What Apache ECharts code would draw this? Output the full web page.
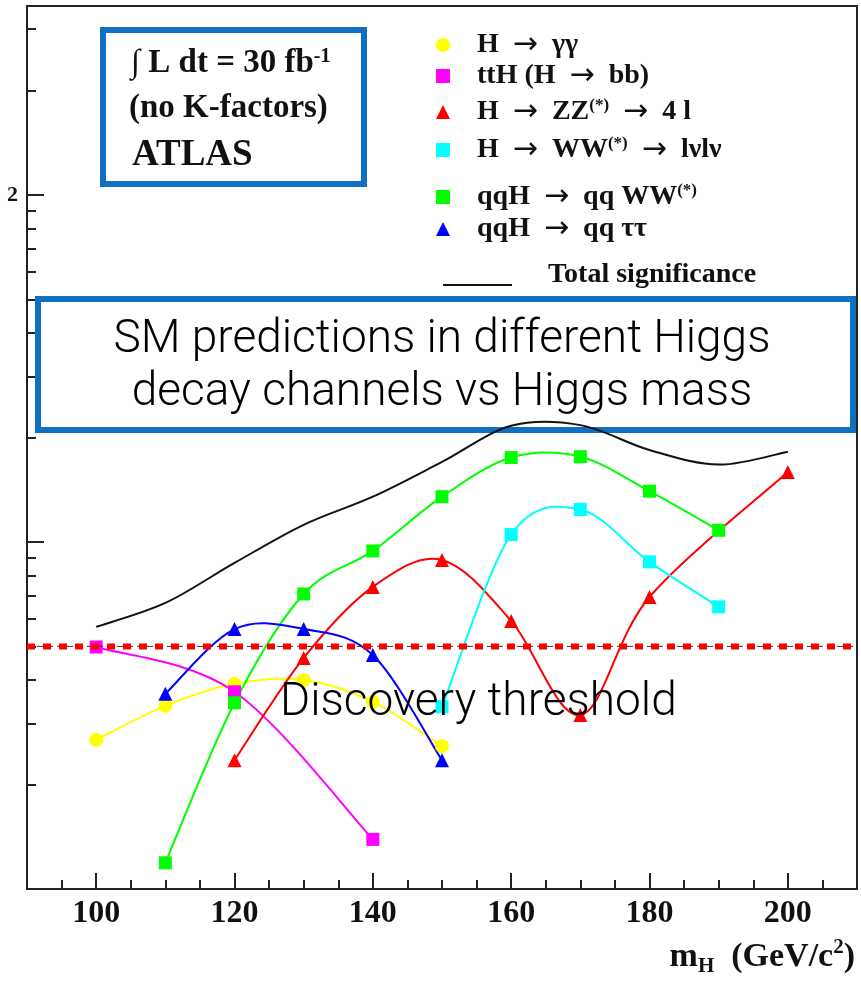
<!DOCTYPE html>
<html><head><meta charset="utf-8">
<script src="https://cdn.jsdelivr.net/npm/echarts@6/dist/echarts.min.js"></script>
<style>html,body{margin:0;padding:0;background:#fff}#c{width:861px;height:981px}</style>
</head><body><div id="c"></div>
<script>
// ---- data ----
const gammaGammaX = [100,110,120,130,140,150];
const gammaGamma  = [2.69,3.37,3.90,4.00,3.46,2.58];
const ttHX = [100,120,140];
const ttH  = [4.98,3.70,1.39];
const zzX = [120,130,140,150,160,170,180,200];
const zz  = [2.35,4.63,7.42,8.87,5.92,3.17,6.94,15.9];
const wwX = [150,160,170,180,190];
const ww  = [3.35,10.5,12.4,8.76,6.5];
const qqWWX = [110,120,130,140,150,160,170,180,190];
const qqWW  = [1.19,3.44,7.08,9.42,13.5,17.5,17.6,14.0,10.8];
const qqTauX = [110,120,130,140,150];
const qqTau  = [3.65,5.61,5.61,4.72,2.35];
const totalX = [100,110,120,130,140,150,160,170,180,190,200];
const total  = [5.69,6.67,8.7,11.2,13.5,17.0,21.6,21.7,18.4,16.7,18.2];
const thresholdX = [90,210];
const thresholdValue = 5;
const xMajorTicks = [100,120,140,160,180,200];
const xMinorTicks = [95,105,110,115,125,130,135,145,150,155,165,170,175,185,190,195,205];
const yMajorTicks = [1,10,100];
const yMinorTicks = [2,3,4,5,6,7,8,9,20,30,40,50,60,70,80,90,200,300];
const yLabelValues = [100];
const yLabelTexts = {100:'2'};
const seriesNames = ['H → γγ','ttH (H → bb)','H → ZZ(*) → 4 l','H → WW(*) → lνlν','qqH → qq WW(*)','qqH → qq ττ','Total significance'];
const legendTexts = {
  'H → γγ':'H  {a|→}  γγ',
  'ttH (H → bb)':'ttH (H  {a|→}  bb)',
  'H → ZZ(*) → 4 l':'H  {a|→}  ZZ{sup|(*)}  {a|→}  4 l',
  'H → WW(*) → lνlν':'H  {a|→}  WW{sup|(*)}  {a|→}  lνlν',
  'qqH → qq WW(*)':'qqH  {a|→}  qq WW{sup|(*)}',
  'qqH → qq ττ':'qqH  {a|→}  qq ττ',
  'Total significance':'Total significance'
};

const zip = (xs, ys) => xs.map((x,i)=>[x, ys[i]]);
const SERIF = 'Liberation Serif';
const SANS = 'Roboto';
const BLUE = '#0F6FC0';

const chart = echarts.init(document.getElementById('c'), null, {renderer:'canvas'});

// markers
function markerSeries(name, xs, ys, color, symbol, size) {
  return {name, type:'scatter', data:zip(xs, ys), symbol, symbolSize:size,
    itemStyle:{color, opacity:1}, z:5, silent:true};
}
// smooth curve through the data points (Catmull-Rom spline in screen space)
function curveSeries(name, xs, ys, color, width, z) {
  return {
    name, type:'custom', coordinateSystem:'cartesian2d', data:zip(xs, ys),
    encode:{x:0, y:1}, itemStyle:{color}, z:z, silent:true, clip:true,
    renderItem:function(params, api){
      if (params.dataIndex !== 0) return null;
      const pts = xs.map((x,i)=>api.coord([x, ys[i]]));
      let d = 'M' + pts[0][0] + ' ' + pts[0][1];
      for (let i=0;i<pts.length-1;i++){
        const p0 = pts[Math.max(i-1,0)], p1 = pts[i], p2 = pts[i+1], p3 = pts[Math.min(i+2,pts.length-1)];
        const c1x = p1[0] + (p2[0]-p0[0])/6, c1y = p1[1] + (p2[1]-p0[1])/6;
        const c2x = p2[0] - (p3[0]-p1[0])/6, c2y = p2[1] - (p3[1]-p1[1])/6;
        d += ' C' + c1x + ' ' + c1y + ' ' + c2x + ' ' + c2y + ' ' + p2[0] + ' ' + p2[1];
      }
      return {type:'path', shape:{pathData:d}, style:{fill:null, stroke:color, lineWidth:width}};
    }
  };
}

const richBase = {fontFamily:SERIF, fontWeight:'bold', fontSize:28, lineHeight:30, color:'#111'};
const legendTextStyle = (pad) => Object.assign({}, richBase, {
  padding:pad,
  rich:{
    sup:{fontFamily:SERIF, fontWeight:'bold', fontSize:17, lineHeight:17, verticalAlign:'top', color:'#111'},
    a:{fontFamily:'DejaVu Sans', fontWeight:'normal', fontSize:30, lineHeight:30, color:'#111'}
  }
});
const legendFmt = n => legendTexts[n];

const legendRows = [
  {n:0, icon:'circle', top:30},
  {n:1, icon:'rect', top:61},
  {n:2, icon:'triangle', top:97},
  {n:3, icon:'rect', top:135},
  {n:4, icon:'rect', top:182},
  {n:5, icon:'triangle', top:214},
];
const legends = legendRows.map(r => ({
  data:[seriesNames[r.n]], left:436, top:r.top, icon:r.icon, itemWidth:14, itemHeight:14,
  selectedMode:false, padding:0, formatter:legendFmt, textStyle:legendTextStyle([0,0,0,22])
}));
legends.push({
  data:[seriesNames[6]], left:443, top:260, icon:'rect', itemWidth:69, itemHeight:2,
  selectedMode:false, padding:0, formatter:legendFmt, textStyle:legendTextStyle([0,0,20,31])
});

const option = {
  animation:false,
  backgroundColor:'#fff',
  grid:{left:27, right:4, top:6, bottom:92, show:true, borderColor:'#222', borderWidth:2, backgroundColor:'transparent'},
  legend: legends,
  xAxis:[{
    type:'value', min:90, max:210, position:'bottom',
    axisLine:{show:true, lineStyle:{color:'#222', width:2}},
    axisTick:{show:true, inside:true, length:16, customValues:xMajorTicks, lineStyle:{color:'#222', width:2}},
    axisLabel:{show:true, customValues:xMajorTicks, margin:9, fontFamily:SERIF, fontWeight:'bold', fontSize:32, color:'#111'},
    splitLine:{show:false},
    name:'{m|m}{sub|H}{n|  (GeV/c}{sup|2}{n|)}',
    nameLocation:'end', nameGap:0,
    nameTextStyle:{align:'right', verticalAlign:'top', padding:[48,2,0,0],
      rich:{
        m:{fontFamily:SERIF, fontWeight:'bold', fontSize:34, color:'#111', lineHeight:40},
        n:{fontFamily:SERIF, fontWeight:'bold', fontSize:34, color:'#111', lineHeight:40},
        sub:{fontFamily:SERIF, fontWeight:'bold', fontSize:21, color:'#111', verticalAlign:'bottom', lineHeight:20},
        sup:{fontFamily:SERIF, fontWeight:'bold', fontSize:21, color:'#111', verticalAlign:'top', lineHeight:20}
      }}
  },{
    type:'value', min:90, max:210, position:'bottom',
    axisLine:{show:false},
    axisTick:{show:true, inside:true, length:9, customValues:xMinorTicks, lineStyle:{color:'#222', width:2}},
    axisLabel:{show:false}, splitLine:{show:false}
  }],
  yAxis:[{
    type:'log', logBase:10, min:1, max:350, position:'left',
    axisLine:{show:true, lineStyle:{color:'#222', width:2}},
    axisTick:{show:true, inside:true, length:17, customValues:yMajorTicks, lineStyle:{color:'#222', width:2}},
    axisLabel:{show:true, customValues:yLabelValues, margin:9, formatter:v=>yLabelTexts[v]||'',
      fontFamily:SERIF, fontWeight:'bold', fontSize:22, color:'#111'},
    splitLine:{show:false}
  },{
    type:'log', logBase:10, min:1, max:350, position:'left',
    axisLine:{show:false},
    axisTick:{show:true, inside:true, length:9, customValues:yMinorTicks, lineStyle:{color:'#222', width:2}},
    axisLabel:{show:false}, splitLine:{show:false}
  }],
  series:[
    curveSeries('curve-gg', gammaGammaX, gammaGamma, '#FFFF00', 2, 3),
    curveSeries('curve-tth', ttHX, ttH, '#FF00FF', 2, 3),
    curveSeries('curve-zz', zzX, zz, '#FF0000', 2, 3),
    curveSeries('curve-ww', wwX, ww, '#00FFFF', 2, 3),
    curveSeries('curve-qqww', qqWWX, qqWW, '#00FF00', 2, 3),
    curveSeries('curve-qqtt', qqTauX, qqTau, '#0000FF', 2, 3),
    curveSeries(seriesNames[6], totalX, total, '#111111', 2, 2),
    markerSeries(seriesNames[0], gammaGammaX, gammaGamma, '#FFFF00', 'circle', 14),
    markerSeries(seriesNames[1], ttHX, ttH, '#FF00FF', 'rect', 13),
    markerSeries(seriesNames[2], zzX, zz, '#FF0000', 'triangle', 14),
    markerSeries(seriesNames[3], wwX, ww, '#00FFFF', 'rect', 13),
    markerSeries(seriesNames[4], qqWWX, qqWW, '#00FF00', 'rect', 13),
    markerSeries(seriesNames[5], qqTauX, qqTau, '#0000FF', 'triangle', 14),
    {name:'threshold-base', type:'line', data: thresholdX.map(x=>[x,thresholdValue]), symbol:'none',
      lineStyle:{color:'#333', width:1, type:[6,4]}, z:6, silent:true},
    {name:'threshold', type:'line', data: thresholdX.map(x=>[x,thresholdValue]), symbol:'none',
      lineStyle:{color:'#FF0000', width:6, type:[8,8], cap:'butt'}, z:7, silent:true}
  ],
  graphic:[
    {type:'rect', shape:{x:103, y:30, width:261, height:154}, style:{fill:'#fff', stroke:BLUE, lineWidth:6}, z:10},
    {type:'text', left:131, top:47, z:11, style:{
      text:'∫ L dt = 30 fb{sup|-1}', fontFamily:SERIF, fontWeight:'bold', fontSize:33, fill:'#111',
      rich:{sup:{fontFamily:SERIF, fontWeight:'bold', fontSize:20, verticalAlign:'top', lineHeight:20, fill:'#111'}}}},
    {type:'text', left:129, top:92, z:11, style:{text:'(no K-factors)', fontFamily:SERIF, fontWeight:'bold', fontSize:33, fill:'#111'}},
    {type:'text', left:132, top:137, z:11, style:{text:'ATLAS', fontFamily:SERIF, fontWeight:'bold', fontSize:37, fill:'#111'}},
    {type:'rect', shape:{x:38, y:299, width:815, height:131}, style:{fill:'transparent', stroke:BLUE, lineWidth:6}, z:1},
    {type:'text', x:442, y:340, z:11, style:{text:'SM predictions in different Higgs', fontFamily:SANS, fontWeight:300,
      fontSize:46, fill:'#000', align:'center', verticalAlign:'middle'}},
    {type:'text', x:442, y:393, z:11, style:{text:'decay channels vs Higgs mass', fontFamily:SANS, fontWeight:300,
      fontSize:46, fill:'#000', align:'center', verticalAlign:'middle'}},
    {type:'text', x:280, y:703, z:20, style:{text:'Discovery threshold', fontFamily:SANS, fontWeight:300,
      fontSize:46, fill:'#000', align:'left', verticalAlign:'middle'}}
  ]
};
chart.setOption(option);
</script></body></html>
